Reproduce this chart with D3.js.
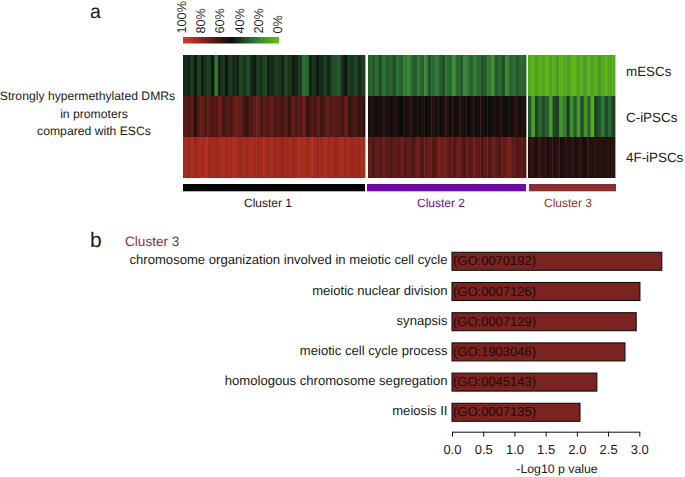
<!DOCTYPE html>
<html><head><meta charset="utf-8">
<script src="https://cdn.jsdelivr.net/npm/d3@7"></script>
<style>html,body{margin:0;padding:0;background:#fff}svg{display:block}text{font-family:"Liberation Sans",Arial,sans-serif;fill:#1a1a1a;text-rendering:geometricPrecision}</style>
</head><body><svg id="c" width="685" height="477"></svg>
<script>
const rowNames = ["mESCs","C-iPSCs","4F-iPSCs"];
const clusterNames = ["Cluster 1","Cluster 2","Cluster 3"];
const clusterColors = ["#000000","#6a0aa0","#8a2f33"];
const legendTicks = [100,80,60,40,20,0];
const c1mESC = [43,45,39,47,37,45,41,39,48,26,45,41,47,39,43,45,37,41,35,43,47,39,41,37,45,43,39,41,45,37,41,47,43,39,28,30,45,41,47,43,39,45,37,35,32,43,47,39,41,37,43,39];
const c1C = [66,64,68,56,66,70,66,68,64,66,72,62,66,64,68,72,70,62,60,66,70,72,64,68,66,70,64,66,62,68,60,70,64,66,72,60,66,64,68,62,64,70,66,68,66,62,72,60,62,64,60,58];
const c14F = [86,84,88,83,86,85,89,84,86,83,85,87,84,86,89,85,83,86,84,87,85,83,86,88,84,86,83,85,81,84,86,82,85,88,87,84,89,86,83,85,88,84,86,82,85,87,84,86,83,85,84,86];
const c2mESC = [31,33,28,35,27,32,30,35,27,31,24,20,29,33,26,31,21,34,29,25,31,35,27,30,18,29,33,21,26,31,24,29,34,31,26,17,33,29,35,20,30,28,33,29,31];
const c2C = [52,54,51,53,57,53,51,55,52,50,54,53,56,51,52,54,50,53,55,52,51,54,56,52,53,51,55,53,50,54,52,53,55,51,49,53,52,55,53,50,52,54,56,52,53];
const c24F = [68,64,70,66,72,68,65,70,67,72,66,70,64,68,71,66,69,72,65,68,74,73,70,68,66,72,69,64,70,67,72,68,65,70,66,71,68,64,70,72,74,68,65,69,66];
const c3mESC = [8,5,12,6,10,4,11,6,13,5,8,12,6,4,10,7,13,5,11,6,14,8,5,10,7];
const c3C = [34,12,38,30,36,32,14,36,38,16,24,38,18,32,14,36,16,30,6,38,34,26,36,30,38];
const c34F = [55,58,54,60,56,54,57,54,58,53,55,54,57,53,56,54,53,58,55,56,57,54,56,55,57];
const clusterData = [[c1mESC,c1C,c14F],[c2mESC,c2C,c24F],[c3mESC,c3C,c34F]];
const goTerms = ["chromosome organization involved in meiotic cell cycle","meiotic nuclear division","synapsis","meiotic cell cycle process","homologous chromosome segregation","meiosis II"];
const goIds = ["(GO:0070192)","(GO:0007126)","(GO:0007129)","(GO:1903046)","(GO:0045143)","(GO:0007135)"];
const goValues = [3.36,3.01,2.95,2.77,2.32,2.05];

const svg = d3.select("#c");
const color = d3.scaleLinear().domain([100,75,50,25,0]).range(["#dc3a20","#7a1f1a","#0c0c0a","#2f7a38","#66c010"]);
const txt = (x,y,s,size,anchor="start",fill="#1a1a1a") => svg.append("text").attr("x",x).attr("y",y).attr("text-anchor",anchor).attr("font-size",size).style("fill",fill).text(s);

txt(90,18,"a",19.5); txt(90,247,"b",21);
txt(87.5,100,"Strongly hypermethylated DMRs",12.2,"middle");
txt(94,118,"in promoters",12.2,"middle"); txt(94,135,"compared with ESCs",12.2,"middle");

// colour legend
const lx = d3.scaleLinear().domain([100,0]).range([183,279]);
const grad = svg.append("defs").append("linearGradient").attr("id","g");
d3.range(0,101,5).forEach(p=>grad.append("stop").attr("offset",p+"%").attr("stop-color",color(100-p)));
svg.append("rect").attr("x",lx(100)).attr("y",37).attr("width",lx(0)-lx(100)).attr("height",6.5).attr("fill","url(#g)");
const legendPos = d3.scaleLinear().domain([100,0]).range([186,282]);
legendTicks.forEach(t=>{
  svg.append("text").attr("transform",`translate(${legendPos(t)},33.5) rotate(-90)`).attr("font-size",12.7).text(t+"%");
});

// heatmap
const rowY = d3.scaleBand().domain(rowNames).range([55,178]);
const extents = [[183,365],[368,526],[528,615]];
const barExt = [[183,365],[367,526],[529,616]];
const clusterLabelX = [268,441,568];
clusterData.forEach((rows,ci)=>{
  rows.forEach((vals,ri)=>{
    const sx = d3.scaleBand().domain(d3.range(vals.length)).range(extents[ci]);
    svg.append("g").selectAll("rect").data(vals).join("rect")
      .attr("x",(d,i)=>sx(i)).attr("y",rowY(rowNames[ri]))
      .attr("width",sx.bandwidth()+0.4).attr("height",rowY.bandwidth())
      .attr("fill",d=>color(d));
  });
  svg.append("rect").attr("x",barExt[ci][0]).attr("y",184).attr("width",barExt[ci][1]-barExt[ci][0]).attr("height",7.3).attr("fill",clusterColors[ci]);
  txt(clusterLabelX[ci],207,clusterNames[ci],12,"middle",ci==0?"#1a1a1a":clusterColors[ci]);
});
rowNames.forEach((r,i)=>txt(626,[76,122,162][i],r,13.4));

// bars
txt(125,246,"Cluster 3",13.6,"start","#8a2f33");
const x = d3.scaleLinear().domain([0,3]).range([452,639.3]);
const barY = i => 252.3 + i*30.2;
const bg = svg.append("g");
goTerms.forEach((t,i)=>{
  bg.append("rect").attr("x",x(0)).attr("y",barY(i)).attr("width",x(goValues[i])-x(0)).attr("height",18)
    .attr("fill","#7a2320").attr("stroke","#111").attr("stroke-width",1.1);
  txt(x(0)+1,barY(i)+13,goIds[i],13,"start","#1f0c0b");
  txt(447.5,barY(i)+12,t,13.1,"end");
});
const ax = svg.append("g").attr("transform","translate(0,431.7)")
  .call(d3.axisBottom(x).tickValues(d3.range(0,3.01,.5)).tickFormat(d3.format(".1f")).tickSize(5).tickPadding(8).tickSizeOuter(0));
ax.select(".domain").attr("stroke","#111");
ax.selectAll("line").attr("stroke","#111");
ax.selectAll("text").attr("font-size",13).style("font-family",'"Liberation Sans"');
txt(557,473,"-Log10 p value",12.3,"middle");
</script></body></html>
